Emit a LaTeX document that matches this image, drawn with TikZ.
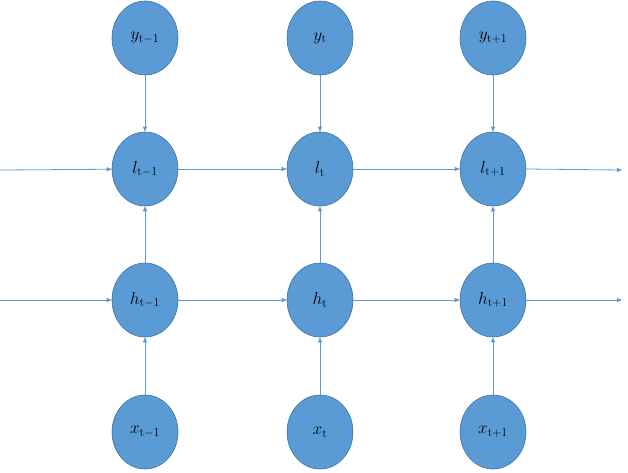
\documentclass[tikz,border=0pt]{standalone}
\usetikzlibrary{arrows.meta,shapes.geometric}
\definecolor{nodeblue}{HTML}{5B9BD5}
\definecolor{edgeblue}{HTML}{41719C}
\definecolor{linkblue}{HTML}{5B9BD5}
\begin{document}
\begin{tikzpicture}[x=1pt,y=-1pt,
  cell/.style={ellipse, draw=edgeblue, line width=0.6pt, fill=nodeblue, minimum width=66pt, minimum height=74pt, inner sep=0pt, font=\fontsize{17}{19}\selectfont},
  link/.style={draw=linkblue, line width=0.8pt, -{Triangle[length=5pt,width=4pt]}}]
\useasboundingbox (0,0) rectangle (628,472);
% columns
\foreach \c/\x/\s in {a/145/{t-1}, b/320/{t}, c/493/{t+1}} {
  \node[cell] (y\c) at (\x,38) {$y_{\mathrm{\s}}$};
  \node[cell] (l\c) at (\x,169) {$l_{\mathrm{\s}}$};
  \node[cell] (h\c) at (\x,300) {$h_{\mathrm{\s}}$};
  \node[cell] (x\c) at (\x,432) {$x_{\mathrm{\s}}$};
}
\coordinate (lin) at (0,170);
\coordinate (hin) at (0,300);
\coordinate (lout) at (622,170);
\coordinate (hout) at (622,300);
\foreach \c in {a,b,c} {
  \draw[link] (y\c) -- (l\c);
  \draw[link] (h\c) -- (l\c);
  \draw[link] (x\c) -- (h\c);
}
\draw[link] (lin) -- (la);
\draw[link] (la) -- (lb);
\draw[link] (lb) -- (lc);
\draw[link] (lc.east) -- (lout);
\draw[link] (hin) -- (ha);
\draw[link] (ha) -- (hb);
\draw[link] (hb) -- (hc);
\draw[link] (hc.east) -- (hout);
\end{tikzpicture}
\end{document}
